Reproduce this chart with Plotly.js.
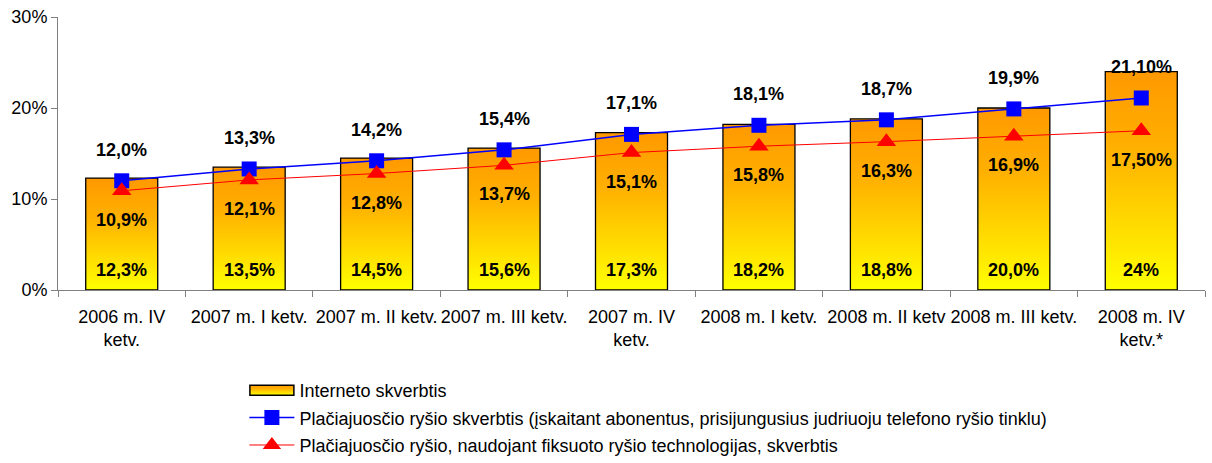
<!DOCTYPE html>
<html>
<head>
<meta charset="utf-8">
<script src="https://cdn.plot.ly/plotly-3.0.1.min.js"></script>
<style>html,body{margin:0;padding:0;background:#fff;}</style>
</head>
<body>
<div id="chart" style="width:1212px;height:463px;"></div>
<script>
const categories = ["2006 m. IV<br>ketv.", "2007 m. I ketv.", "2007 m. II ketv.", "2007 m. III ketv.", "2007 m. IV<br>ketv.", "2008 m. I ketv.", "2008 m. II ketv", "2008 m. III ketv.", "2008 m. IV<br>ketv.*"];
const internetValues = [12.3, 13.5, 14.5, 15.6, 17.3, 18.2, 18.8, 20.0, 24];
const internetLabels = ["12,3%", "13,5%", "14,5%", "15,6%", "17,3%", "18,2%", "18,8%", "20,0%", "24%"];
const broadbandValues = [12.0, 13.3, 14.2, 15.4, 17.1, 18.1, 18.7, 19.9, 21.1];
const broadbandLabels = ["12,0%", "13,3%", "14,2%", "15,4%", "17,1%", "18,1%", "18,7%", "19,9%", "21,10%"];
const fixedValues = [10.9, 12.1, 12.8, 13.7, 15.1, 15.8, 16.3, 16.9, 17.5];
const fixedLabels = ["10,9%", "12,1%", "12,8%", "13,7%", "15,1%", "15,8%", "16,3%", "16,9%", "17,50%"];
const seriesNames = ["Interneto skverbtis", "Plačiajuosčio ryšio skverbtis (įskaitant abonentus, prisijungusius judriuoju telefono ryšio tinklu)", "Plačiajuosčio ryšio, naudojant fiksuoto ryšio technologijas, skverbtis"];

const FONT = "Arial, 'Liberation Sans', sans-serif";

const traces = [
  {type: "bar", x: categories, y: internetValues, name: seriesNames[0], width: 0.565,
   marker: {color: "#FFCC00", line: {color: "#000000", width: 1.3}},
   legendgroup: "a", hoverinfo: "none"},
  {type: "scatter", mode: "lines+markers", x: categories, y: broadbandValues, name: seriesNames[1],
   line: {color: "#0000FF", width: 1.5}, marker: {symbol: "square", size: 15, color: "#0000FF"},
   legendgroup: "b", hoverinfo: "none"},
  {type: "scatter", mode: "lines+markers", x: categories, y: fixedValues, name: seriesNames[2],
   line: {color: "#FF0000", width: 1}, marker: {symbol: "triangle-up", size: 17, color: "#FF0000"},
   legendgroup: "c", hoverinfo: "none"}
];

const annotations = [];
const lblFont = {family: FONT, size: 18, color: "#000000"};
categories.forEach((c, i) => {
  annotations.push({x: c, y: 0, xref: "x", yref: "y", text: "<b>" + internetLabels[i] + "</b>", showarrow: false, yanchor: "middle", yshift: 20, font: lblFont});
  annotations.push({x: c, y: broadbandValues[i], xref: "x", yref: "y", text: "<b>" + broadbandLabels[i] + "</b>", showarrow: false, yanchor: "middle", yshift: 31, font: lblFont});
  annotations.push({x: c, y: fixedValues[i], xref: "x", yref: "y", text: "<b>" + fixedLabels[i] + "</b>", showarrow: false, yanchor: "middle", yshift: -29, font: lblFont});
});

const layout = {
  width: 1212, height: 463,
  margin: {l: 58, r: 7, t: 17, b: 173},
  paper_bgcolor: "#ffffff", plot_bgcolor: "#ffffff",
  font: {family: FONT, size: 18, color: "#000000"},
  showlegend: true,
  legend: {x: 0.1625, y: -0.2564, xanchor: "left", yanchor: "top", orientation: "v",
           traceorder: "grouped", tracegroupgap: 1, itemwidth: 45,
           font: {family: FONT, size: 18, color: "#000000"}, bgcolor: "rgba(0,0,0,0)"},
  xaxis: {type: "category", showline: true, linecolor: "#808080", linewidth: 1,
          ticks: "outside", tickson: "boundaries", ticklen: 6, tickcolor: "#808080", tickangle: 0,
          ticklabelstandoff: 10,
          showgrid: false, zeroline: false, tickfont: {family: FONT, size: 18, color: "#000"}, range: [-0.5, 8.5]},
  yaxis: {range: [0, 30], dtick: 10, ticksuffix: "%", showline: true, linecolor: "#808080", linewidth: 1,
          ticks: "outside", ticklen: 6, tickcolor: "#808080", showgrid: false, zeroline: false,
          tickfont: {family: FONT, size: 18, color: "#000"}},
  annotations: annotations,
  bargap: 0.435
};

Plotly.newPlot("chart", traces, layout, {staticPlot: true}).then(function () {
  const svg = document.querySelector("#chart .main-svg");
  const ns = "http://www.w3.org/2000/svg";
  let defs = svg.querySelector("defs");
  if (!defs) { defs = document.createElementNS(ns, "defs"); svg.insertBefore(defs, svg.firstChild); }
  const grad = document.createElementNS(ns, "linearGradient");
  grad.setAttribute("id", "barGrad");
  grad.setAttribute("x1", "0"); grad.setAttribute("y1", "0");
  grad.setAttribute("x2", "0"); grad.setAttribute("y2", "1");
  [["0", "#FF9900"], ["0.35", "#FFB000"], ["1", "#FFFF00"]].forEach(function (s) {
    const st = document.createElementNS(ns, "stop");
    st.setAttribute("offset", s[0]); st.setAttribute("stop-color", s[1]);
    grad.appendChild(st);
  });
  defs.appendChild(grad);
  document.querySelectorAll("#chart .barlayer .point path").forEach(function (p) {
    p.style.setProperty("fill", "url(#barGrad)");
  });
  document.querySelectorAll("#chart .legend .legendpoints path").forEach(function (p) {
    const f = p.style.fill;
    if (f && (f.indexOf("255, 204, 0") >= 0 || f.toLowerCase() === "#ffcc00")) {
      p.style.setProperty("fill", "url(#barGrad)");
      p.setAttribute("d", "M-22,5H22V-5H-22Z");
      p.style.setProperty("stroke", "#000");
      p.style.setProperty("stroke-width", "1.5px");
    }
  });
  const lg = document.querySelector("#chart .legend");
  if (lg) {
    const t = lg.getAttribute("transform") || "";
    const m = t.match(/translate\(\s*([-\d.]+)[ ,]+([-\d.]+)\s*\)/);
    if (m) lg.setAttribute("transform", "translate(" + m[1] + "," + (parseFloat(m[2]) + 12) + ")");
  }
});
</script>
</body>
</html>
